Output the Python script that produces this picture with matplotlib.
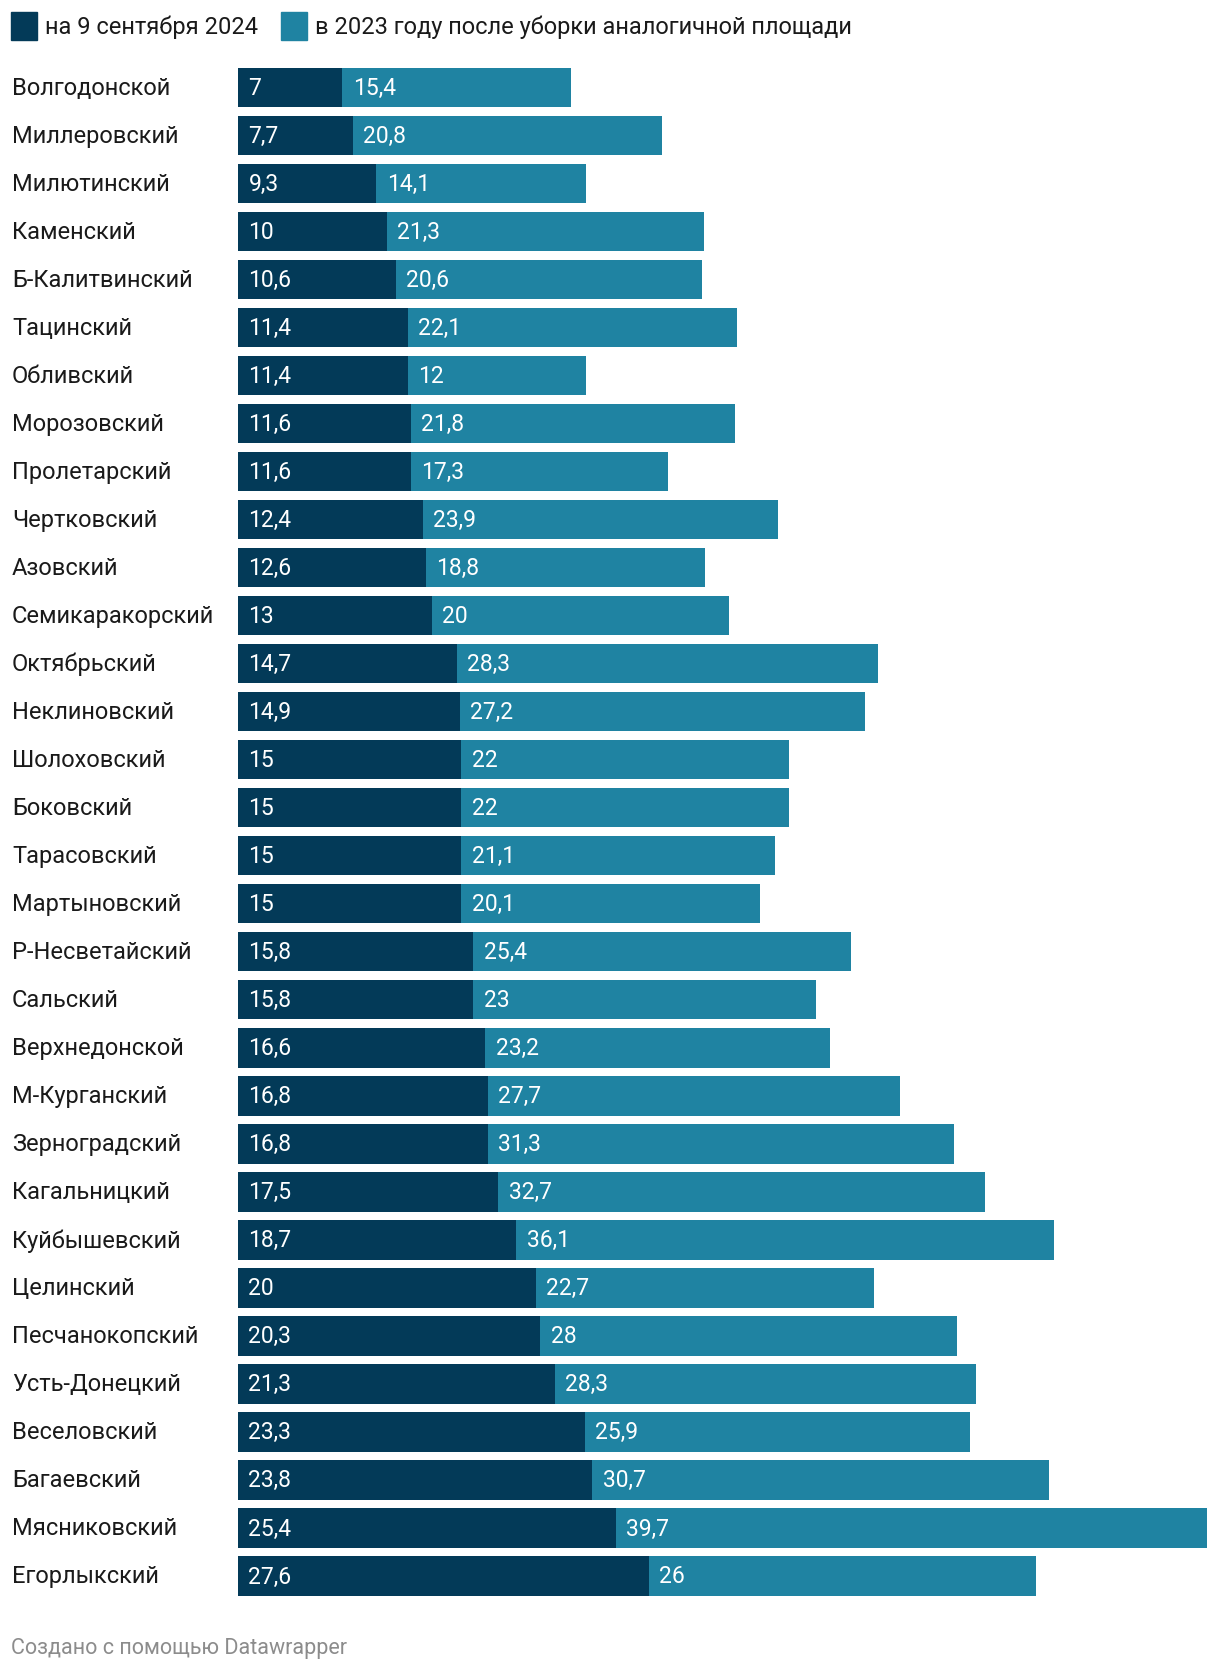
import matplotlib
matplotlib.use('Agg')
import matplotlib.pyplot as plt
from matplotlib.patches import Rectangle
from matplotlib.transforms import blended_transform_factory

plt.rcParams['font.family'] = ['Roboto', 'DejaVu Sans']

districts = ['Волгодонской', 'Миллеровский', 'Милютинский', 'Каменский', 'Б-Калитвинский',
             'Тацинский', 'Обливский', 'Морозовский', 'Пролетарский', 'Чертковский',
             'Азовский', 'Семикаракорский', 'Октябрьский', 'Неклиновский', 'Шолоховский',
             'Боковский', 'Тарасовский', 'Мартыновский', 'Р-Несветайский', 'Сальский',
             'Верхнедонской', 'М-Курганский', 'Зерноградский', 'Кагальницкий', 'Куйбышевский',
             'Целинский', 'Песчанокопский', 'Усть-Донецкий', 'Веселовский', 'Багаевский',
             'Мясниковский', 'Егорлыкский']
sep_2024 = [7, 7.7, 9.3, 10, 10.6, 11.4, 11.4, 11.6, 11.6, 12.4, 12.6, 13, 14.7, 14.9, 15,
            15, 15, 15, 15.8, 15.8, 16.6, 16.8, 16.8, 17.5, 18.7, 20, 20.3, 21.3, 23.3, 23.8,
            25.4, 27.6]
year_2023 = [15.4, 20.8, 14.1, 21.3, 20.6, 22.1, 12, 21.8, 17.3, 23.9, 18.8, 20, 28.3, 27.2,
             22, 22, 21.1, 20.1, 25.4, 23, 23.2, 27.7, 31.3, 32.7, 36.1, 22.7, 28, 28.3, 25.9,
             30.7, 39.7, 26]
legend_labels = ['на 9 сентября 2024', 'в 2023 году после уборки аналогичной площади']

dark = '#033a58'
light = '#1f83a2'

W, H = 1220, 1674
fig = plt.figure(figsize=(W / 100, H / 100), dpi=100)
ax = fig.add_axes([238 / W, 1 - 1601 / H, (1207 - 238) / W, (1601 - 64.5) / H])

y = list(range(len(districts)))
ax.barh(y, sep_2024, height=0.82, color=dark)
ax.barh(y, year_2023, left=sep_2024, height=0.82, color=light)
ax.set_xlim(0, max(a + b for a, b in zip(sep_2024, year_2023)))
ax.set_ylim(len(districts) - 0.5, -0.5)
ax.axis('off')

fmt = lambda v: f'{v:g}'.replace('.', ',')
for i, (a, b) in enumerate(zip(sep_2024, year_2023)):
    ax.text(0.7, i, fmt(a), color='white', fontsize=16.5, va='center')
    ax.text(a + 0.7, i, fmt(b), color='white', fontsize=16.5, va='center')

tr = blended_transform_factory(fig.transFigure, ax.transData)
for i, name in enumerate(districts):
    ax.text(12 / W, i, name, transform=tr, fontsize=17, color='#1a1a1a', va='center')

# legend
for x0, col, lab in [(11, dark, legend_labels[0]), (281, light, legend_labels[1])]:
    fig.patches.append(Rectangle((x0 / W, 1 - 41 / H), 26 / W, 28 / H,
                                 transform=fig.transFigure, color=col))
    fig.text((x0 + 34) / W, 1 - 27 / H, lab, fontsize=17, color='#1a1a1a', va='center')

fig.text(11 / W, 1 - 1649 / H, 'Создано с помощью Datawrapper', fontsize=15.5,
         color='#8c8c8c', va='center')

fig.savefig('out.png', dpi=100, facecolor='white')
